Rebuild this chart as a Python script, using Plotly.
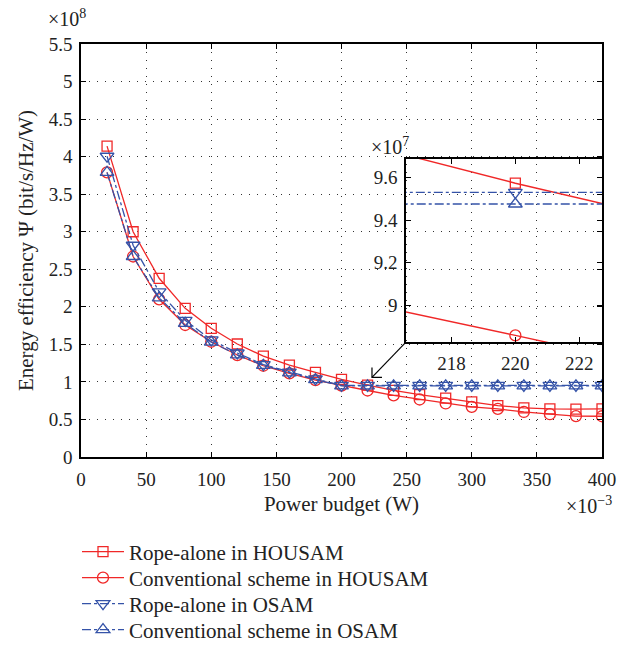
import plotly.graph_objects as go

# ---------------- data (values in units of 1e8 bit/s/Hz/W) ----------------
power_mw = [20, 40, 60, 80, 100, 120, 140, 160, 180, 200,
            220, 240, 260, 280, 300, 320, 340, 360, 380, 400]

rope_housam = [4.14, 3.00, 2.38, 1.98, 1.714, 1.505, 1.344, 1.224, 1.127, 1.035,
               0.9574, 0.887, 0.83, 0.785, 0.735, 0.685, 0.655, 0.64, 0.638, 0.64]
conv_housam = [3.79, 2.67, 2.10, 1.758, 1.535, 1.358, 1.215, 1.113, 1.024, 0.95,
               0.8857, 0.82, 0.766, 0.713, 0.668, 0.64, 0.60, 0.57, 0.545, 0.543]
rope_osam = [4.005, 2.82, 2.20, 1.82, 1.56, 1.385, 1.23, 1.13, 1.04, 0.9531,
             0.9531, 0.9531, 0.9531, 0.9531, 0.9531, 0.9531, 0.9531, 0.9531, 0.9531, 0.9531]
conv_osam = [3.79, 2.67, 2.12, 1.78, 1.53, 1.36, 1.22, 1.12, 1.03, 0.9476,
             0.9476, 0.9476, 0.9476, 0.9476, 0.9476, 0.9476, 0.9476, 0.9476, 0.9476, 0.9476]

names = ["Rope-alone in HOUSAM", "Conventional scheme in HOUSAM",
         "Rope-alone in OSAM", "Conventional scheme in OSAM"]

main_xticks = [0, 50, 100, 150, 200, 250, 300, 350, 400]
main_yticks = [0, 0.5, 1, 1.5, 2, 2.5, 3, 3.5, 4, 4.5, 5, 5.5]
inset_xticks = [218, 220, 222]
inset_yticks = [9.0, 9.2, 9.4, 9.6]

# ---------------- styles ----------------
RED = "#F02828"
BLUE = "#3553A8"
FONT = "Liberation Serif"
TXT = "#222"
W, H = 632, 646

series = [
    (rope_housam, RED, "solid", "square-open", 10),
    (conv_housam, RED, "solid", "circle-open", 11),
    (rope_osam, BLUE, "dashdot", "triangle-down-open", 12),
    (conv_osam, BLUE, "dashdot", "triangle-up-open", 12),
]
legend_ids = ["legend", "legend2", "legend3", "legend4"]
legend_rows_px = [552, 578, 604, 630]

fig = go.Figure()
for (vals, col, dash, sym, ms), nm, lg in zip(series, names, legend_ids):
    fig.add_trace(go.Scatter(
        x=power_mw, y=vals, name=nm, mode="lines+markers",
        line=dict(color=col, width=1.3, dash=dash),
        marker=dict(symbol=sym, size=ms, color=col, line=dict(width=1.3, color=col)),
        xaxis="x", yaxis="y", showlegend=True, legend=lg, cliponaxis=True))
for (vals, col, dash, sym, ms), nm in zip(series, names):
    fig.add_trace(go.Scatter(
        x=power_mw, y=[v * 10 for v in vals], name=nm, mode="lines+markers",
        line=dict(color=col, width=1.4, dash=dash),
        marker=dict(symbol=sym, size=ms, color=col, line=dict(width=1.3, color=col)),
        xaxis="x2", yaxis="y2", showlegend=False, cliponaxis=True))

# plot areas in pixels
mx0, mx1, my0, my1 = 81, 602, 44, 457
ix0, ix1, iy0, iy1 = 406, 602, 159, 342

axis_common = dict(showline=True, linecolor="black", linewidth=1.5, mirror="ticks",
                   ticks="inside", ticklen=5, tickcolor="black", tickwidth=1,
                   zeroline=False, tickfont=dict(family=FONT, size=19, color=TXT))

legend_style = dict(xanchor="left", yanchor="middle", bgcolor="rgba(0,0,0,0)",
                    font=dict(family=FONT, size=21, color=TXT), itemwidth=42,
                    borderwidth=0)
legends = {}
for lg, ypx in zip(legend_ids, legend_rows_px):
    legends[lg] = dict(x=77 / W, y=1 - ypx / H, **legend_style)

fig.update_layout(
    width=W, height=H, margin=dict(l=0, r=0, t=0, b=0, autoexpand=False),
    paper_bgcolor="white", plot_bgcolor="rgba(0,0,0,0)",
    font=dict(family=FONT, size=20, color=TXT),
    xaxis=dict(domain=[mx0 / W, mx1 / W], range=[0, 400], tickvals=main_xticks,
               showgrid=True, gridcolor="#333", gridwidth=1, griddash="1px,7px",
               ticklabelstandoff=4,
               title=dict(text="Power budget (W)", font=dict(family=FONT, size=21, color=TXT), standoff=8),
               anchor="y", **axis_common),
    yaxis=dict(domain=[1 - my1 / H, 1 - my0 / H], range=[0, 5.5], tickvals=main_yticks,
               ticktext=[f"{v:g}" for v in main_yticks],
               showgrid=True, gridcolor="#333", gridwidth=1, griddash="1px,7px",
               ticklabelstandoff=3,
               title=dict(text="Energy efficiency Ψ (bit/s/Hz/W)", font=dict(family=FONT, size=21, color=TXT), standoff=9),
               anchor="x", **axis_common),
    xaxis2=dict(domain=[ix0 / W, ix1 / W], range=[216.58, 222.71], tickvals=inset_xticks,
                showgrid=False, anchor="y2", ticklabelstandoff=3, **axis_common),
    yaxis2=dict(domain=[1 - iy1 / H, 1 - iy0 / H], range=[8.826, 9.688], tickvals=inset_yticks,
                ticktext=["9", "9.2", "9.4", "9.6"],
                showgrid=False, anchor="x2", ticklabelstandoff=3, **axis_common),
    showlegend=True,
    **legends,
)

# exponent labels
fig.add_annotation(text="×10<sup>8</sup>", xref="paper", yref="paper", x=46 / W, y=1 - 18 / H,
                   xanchor="left", yanchor="middle", showarrow=False,
                   font=dict(family=FONT, size=20, color=TXT))
fig.add_annotation(text="×10<sup>−3</sup>", xref="paper", yref="paper", x=614 / W, y=1 - 505 / H,
                   xanchor="right", yanchor="middle", showarrow=False,
                   font=dict(family=FONT, size=20, color=TXT))
fig.add_annotation(text="×10<sup>7</sup>", xref="paper", yref="paper", x=369 / W, y=1 - 146 / H,
                   xanchor="left", yanchor="middle", showarrow=False,
                   font=dict(family=FONT, size=20, color=TXT))

# arrow from inset corner to zoomed point
head_x, head_y = 223.4, 1.06
tail_x, tail_y = 249.5, 1.53
fig.add_shape(type="line", xref="x", yref="y", x0=tail_x, y0=tail_y, x1=head_x, y1=head_y,
              line=dict(color="black", width=1.2))
fig.add_shape(type="path", xref="x", yref="y", xsizemode="pixel", ysizemode="pixel",
              xanchor=head_x, yanchor=head_y, path="M 0,10 L 0,0 L 10,0",
              line=dict(color="black", width=1.2))

fig.write_html("out.html")
